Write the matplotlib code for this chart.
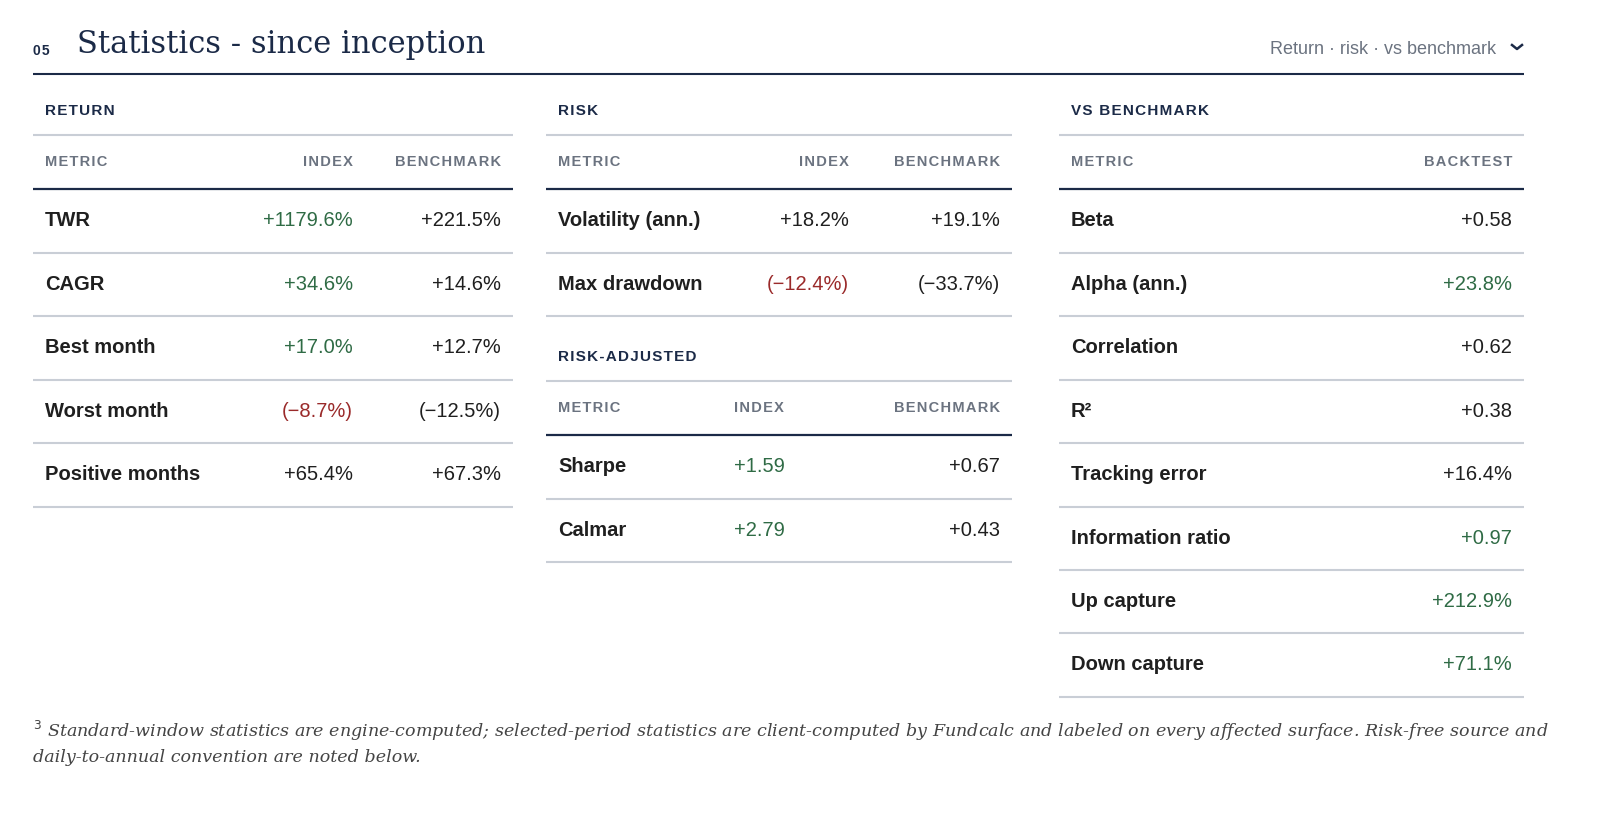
import matplotlib
matplotlib.use("Agg")
import matplotlib.pyplot as plt

ret_metrics = ["TWR", "CAGR", "Best month", "Worst month", "Positive months"]
ret_index = ["+1179.6%", "+34.6%", "+17.0%", "(\u22128.7%)", "+65.4%"]
ret_bench = ["+221.5%", "+14.6%", "+12.7%", "(\u221212.5%)", "+67.3%"]
ret_icol = ["g", "g", "g", "r", "k"]

risk_metrics = ["Volatility (ann.)", "Max drawdown"]
risk_index = ["+18.2%", "(\u221212.4%)"]
risk_bench = ["+19.1%", "(\u221233.7%)"]
risk_icol = ["k", "r"]

radj_metrics = ["Sharpe", "Calmar"]
radj_index = ["+1.59", "+2.79"]
radj_bench = ["+0.67", "+0.43"]

vs_metrics = ["Beta", "Alpha (ann.)", "Correlation", "R\u00b2", "Tracking error",
              "Information ratio", "Up capture", "Down capture"]
vs_values = ["+0.58", "+23.8%", "+0.62", "+0.38", "+16.4%", "+0.97", "+212.9%", "+71.1%"]
vs_col = ["k", "g", "k", "k", "k", "g", "g", "g"]

NAVY = "#1b2a47"; INK = "#1f1f1f"; GRAY = "#6b7380"; LIGHT = "#c9ced6"
COL = {"g": "#2f6b45", "r": "#9a2a2a", "k": INK}

fig = plt.figure(figsize=(16.06, 8.26), dpi=100)
ax = fig.add_axes([0, 0, 1, 1]); ax.set_xlim(0, 1606); ax.set_ylim(826, 0); ax.axis("off")
SANS = "Liberation Sans"

def hl(x0, x1, y, c=LIGHT, lw=1.5):
    ax.plot([x0, x1], [y, y], color=c, lw=lw, solid_capstyle="butt")

def t(x, y, s, ha="left", c=INK, size=14.5, w="normal", **kw):
    ax.text(x, y, s, ha=ha, va="center", color=c, fontsize=size, fontweight=w, family=SANS, **kw)

def sp(s):
    return "\u200a".join(s)

# title
t(33, 51, sp("05"), c=NAVY, size=10, w="bold")
ax.text(77, 45, "Statistics - since inception", ha="left", va="center", color=NAVY,
        fontsize=22, family="DejaVu Serif")
t(1496, 50, "Return \u00b7 risk \u00b7 vs benchmark", ha="right", c=GRAY, size=13)
ax.plot([1512, 1517, 1522], [45, 49, 45], color=NAVY, lw=1.8)
hl(33, 1524, 74, NAVY, 1.5)

def section(x0, x1, ytitle, title, heads, headpos):
    t(x0 + 12, ytitle, sp(title), c=NAVY, size=11, w="bold")
    hl(x0, x1, ytitle + 24)
    for h, (px, ha) in zip(heads, headpos):
        t(px, ytitle + 51, sp(h), ha=ha, c=GRAY, size=10.5, w="bold")
    hl(x0, x1, ytitle + 78, NAVY, 1.6)

STEP = 63.4
# RETURN
section(33, 513, 111, "RETURN", ["METRIC", "INDEX", "BENCHMARK"],
        [(45, "left"), (353, "right"), (501, "right")])
for i, m in enumerate(ret_metrics):
    y = 221 + i * STEP
    t(45, y, m, w="bold"); t(353, y, ret_index[i], ha="right", c=COL[ret_icol[i]])
    t(501, y, ret_bench[i], ha="right")
    hl(33, 513, y + 32)

# RISK
section(546, 1012, 111, "RISK", ["METRIC", "INDEX", "BENCHMARK"],
        [(558, "left"), (849, "right"), (1000, "right")])
for i, m in enumerate(risk_metrics):
    y = 221 + i * STEP
    t(558, y, m, w="bold"); t(849, y, risk_index[i], ha="right", c=COL[risk_icol[i]])
    t(1000, y, risk_bench[i], ha="right")
    hl(546, 1012, y + 32)
section(546, 1012, 357, "RISK-ADJUSTED", ["METRIC", "INDEX", "BENCHMARK"],
        [(558, "left"), (734, "left"), (1000, "right")])
for i, m in enumerate(radj_metrics):
    y = 467 + i * STEP
    t(558, y, m, w="bold"); t(734, y, radj_index[i], c=COL["g"])
    t(1000, y, radj_bench[i], ha="right")
    hl(546, 1012, y + 32)

# VS BENCHMARK
section(1059, 1524, 111, "VS BENCHMARK", ["METRIC", "BACKTEST"],
        [(1071, "left"), (1512, "right")])
for i, m in enumerate(vs_metrics):
    y = 221 + i * STEP
    t(1071, y, m, w="bold"); t(1512, y, vs_values[i], ha="right", c=COL[vs_col[i]])
    hl(1059, 1524, y + 32)

# footnote
ax.text(33, 731, "$^3$ Standard-window statistics are engine-computed; selected-period statistics are client-computed by Fundcalc and labeled on every affected surface. Risk-free source and",
        ha="left", va="center", color="#444444", fontsize=12.6, family="DejaVu Serif", style="italic")
ax.text(33, 758, "daily-to-annual convention are noted below.",
        ha="left", va="center", color="#444444", fontsize=12.6, family="DejaVu Serif", style="italic")

fig.savefig("out.png", dpi=100, facecolor="white")
